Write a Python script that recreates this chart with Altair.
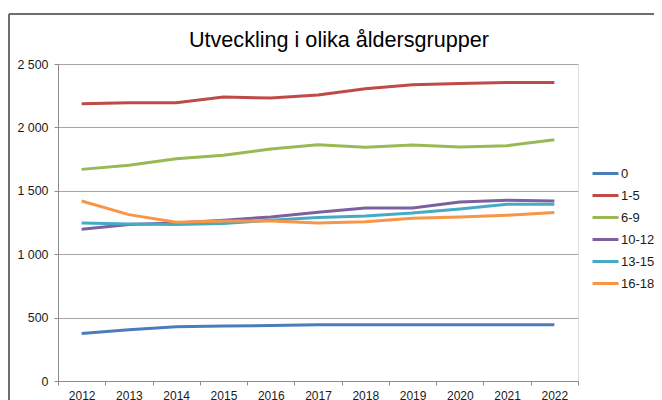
import altair as alt
import pandas as pd

years = [str(y) for y in range(2012, 2023)]
series_names = ["0", "1-5", "6-9", "10-12", "13-15", "16-18"]
colors = ["#4A7EBB", "#BE4B48", "#98B954", "#7D60A0", "#46AAC5", "#F79646"]
title_text = ["Utveckling i olika åldersgrupper"]

s_0 = [375, 405, 428, 433, 438, 443, 443, 443, 443, 443, 443]
s_1_5 = [2187, 2195, 2195, 2239, 2231, 2255, 2305, 2336, 2347, 2355, 2355]
s_6_9 = [1669, 1701, 1753, 1780, 1829, 1864, 1843, 1861, 1845, 1856, 1903]
s_10_12 = [1197, 1234, 1247, 1268, 1294, 1330, 1365, 1365, 1412, 1425, 1420]
s_13_15 = [1247, 1239, 1234, 1242, 1268, 1289, 1302, 1325, 1357, 1394, 1394]
s_16_18 = [1420, 1312, 1252, 1262, 1262, 1247, 1255, 1283, 1294, 1307, 1328]

all_series = [s_0, s_1_5, s_6_9, s_10_12, s_13_15, s_16_18]
rows = []
for name, vals in zip(series_names, all_series):
    for yr, v in zip(years, vals):
        rows.append({"year": yr, "group": name, "value": v})
df = pd.DataFrame(rows)
tdf = pd.DataFrame({"t": title_text})

FONT = "Liberation Sans"

lines = alt.Chart(df).mark_line(strokeWidth=3).encode(
    x=alt.X("year:O", bandPosition=0.5,
            scale=alt.Scale(type="band", paddingInner=0, paddingOuter=0),
            axis=alt.Axis(title=None, labelAngle=0, tickBand="extent", grid=False,
                          domainColor="#8c8c8c", tickColor="#8c8c8c", tickSize=4,
                          labelPadding=5, labelFontSize=12, labelColor="#1a1a1a",
                          labelFont=FONT)),
    y=alt.Y("value:Q", scale=alt.Scale(domain=[0, 2500]),
            axis=alt.Axis(title=None, values=[0, 500, 1000, 1500, 2000, 2500],
                          labelExpr="replace(format(datum.value, ','), ',', ' ')",
                          grid=True, gridColor="#a6a6a6", domainColor="#8c8c8c",
                          tickColor="#8c8c8c", tickSize=4, labelPadding=6,
                          labelFontSize=12.4, labelColor="#1a1a1a", labelFont=FONT)),
    color=alt.Color("group:N", scale=alt.Scale(domain=series_names, range=colors),
                    sort=series_names,
                    legend=alt.Legend(title=None, orient="none", legendX=533, legendY=95,
                                      symbolType="stroke", symbolSize=676,
                                      symbolStrokeWidth=3, labelFontSize=13,
                                      labelFont=FONT, labelColor="#1a1a1a",
                                      rowPadding=0, labelOffset=1)),
)

title = alt.Chart(tdf).mark_text(font=FONT, fontSize=21.6, color="#000000",
                                 align="center", baseline="alphabetic").encode(
    text="t:N", x=alt.value(281), y=alt.value(-17))

frame_v = alt.Chart(tdf).mark_rule(color="#6e6e6e", strokeWidth=2).encode(
    x=alt.value(-49), y=alt.value(-50), y2=alt.value(340))
frame_h = alt.Chart(tdf).mark_rule(color="#6e6e6e", strokeWidth=2).encode(
    x=alt.value(-49), x2=alt.value(600), y=alt.value(-50))

chart = alt.layer(lines, title, frame_v, frame_h).properties(
    width=520, height=317,
    autosize=alt.AutoSizeParams(type="none"),
    padding={"left": 50, "top": 56, "right": 76, "bottom": 20},
).configure_view(stroke=None).configure(background="white")

chart.save("out.html", embed_options={"renderer": "svg", "actions": False})
